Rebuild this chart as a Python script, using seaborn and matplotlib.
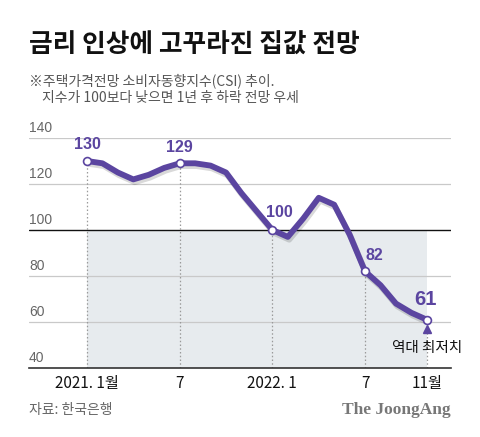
import pandas as pd
import numpy as np
import matplotlib.pyplot as plt
import matplotlib.patheffects as pe
import seaborn as sns

# data (housing price outlook CSI, monthly)
months = list(range(23))  # 2021.1 ... 2022.11
csi = [130, 129, 125, 122, 124, 127, 129, 129, 128, 125, 116, 108,
       100, 97, 105, 114, 111, 98, 82, 76, 68, 64, 61]
label_idx = [0, 6, 12, 18, 22]
xtick_pos = [0, 6, 12, 18, 22]
xtick_labels = ["2021. 1월", "7", "2022. 1", "7", "11월"]
yticks = [40, 60, 80, 100, 120, 140]

PURPLE = "#5b45a0"
GRAY_TXT = "#666666"

sns.set_style("white")
plt.rcParams['font.family'] = ['Noto Sans CJK KR', 'DejaVu Sans']

df = pd.DataFrame({"month": months, "csi": csi})

fig = plt.figure(figsize=(4.8, 4.37), dpi=100)
ax = fig.add_axes([29 / 480, 1 - 368 / 437, 422 / 480, 230 / 437])

ax.set_xlim(-3.75, 23.56)
ax.set_ylim(40, 140)

# shaded area below 100
ax.fill_between([0, 22], 40, 100, color="#e7ebee", zorder=0, lw=0)

# grid lines
for y in [60, 80, 120, 140]:
    ax.axhline(y, color="#c9c9c9", lw=0.9, zorder=1)
ax.axhline(100, color="#111111", lw=1.0, zorder=1)

# vertical dotted guides
for i in label_idx:
    ax.plot([i, i], [40, csi[i]], color="#9a9a9a", ls=(0, (1.2, 1.8)), lw=0.9, zorder=2)

sns.lineplot(data=df, x="month", y="csi", ax=ax, color=PURPLE, lw=4.2,
             solid_joinstyle="round", solid_capstyle="round", zorder=4,
             path_effects=[pe.SimpleLineShadow(offset=(1, -2), shadow_color="#000000", alpha=0.15),
                           pe.Normal()])

sub = df.iloc[label_idx]
ax.scatter(sub["month"], sub["csi"], s=32, facecolor="white", edgecolor=PURPLE,
           linewidth=1.2, zorder=5)

# value labels
offsets = {0: (0, 9), 6: (0, 8.5), 12: (7, 9.5), 18: (9.5, 8), 22: (-1.5, 8)}
for i in label_idx:
    dx, dy = offsets[i]
    big = i == 22
    ax.annotate(str(csi[i]), (i, csi[i]), xytext=(dx * 0.72, dy * 0.72 + (2 if big else 0)),
                textcoords="offset points", ha="center", va="bottom",
                fontsize=14.5 if big else 11.5, fontweight="bold", color=PURPLE,
                family="Liberation Sans", zorder=6)

# record low marker
ax.plot([22], [56.8], marker="^", ms=5.5, color=PURPLE, zorder=6, clip_on=False)
ax.text(22, 48.8, "역대 최저치", ha="center", va="center", fontsize=10.5, color="#111111")

# y labels above grid lines
for y in yticks:
    ax.text(0.0, y + 1.2, str(y), transform=ax.get_yaxis_transform(), ha="left",
            va="bottom", fontsize=10, color=GRAY_TXT, family="Liberation Sans")

ax.set_yticks([])
ax.set_xticks(xtick_pos)
ax.set_xticklabels(xtick_labels, fontsize=11, color="#111111")
ax.set_xticks(months, minor=True)
ax.tick_params(axis="x", which="major", direction="in", length=5, width=1, color="#333333", pad=5)
ax.tick_params(axis="x", which="minor", direction="in", length=4, width=0.8, color="#888888")
ax.set_xlabel("")
ax.set_ylabel("")
for s in ["top", "left", "right"]:
    ax.spines[s].set_visible(False)
ax.spines["bottom"].set_color("#333333")
ax.spines["bottom"].set_linewidth(1.2)

# titles and footer
fig.text(29 / 480, 1 - 45 / 437, "금리 인상에 고꾸라진 집값 전망", fontsize=18.5,
         fontweight="black", color="#111111", va="center", ha="left")
fig.text(29 / 480, 1 - 81 / 437, "※주택가격전망 소비자동향지수(CSI) 추이.", fontsize=10,
         color="#555555", va="center", ha="left")
fig.text(42 / 480, 1 - 98 / 437, "지수가 100보다 낮으면 1년 후 하락 전망 우세", fontsize=10,
         color="#555555", va="center", ha="left")
fig.text(29 / 480, 1 - 410 / 437, "자료: 한국은행", fontsize=10, color="#666666",
         va="center", ha="left")
fig.text(451 / 480, 1 - 410 / 437, "The JoongAng", fontsize=12.5, fontweight="bold",
         family="Liberation Serif", color="#777777", va="center", ha="right")

fig.savefig("out.png", dpi=100)
